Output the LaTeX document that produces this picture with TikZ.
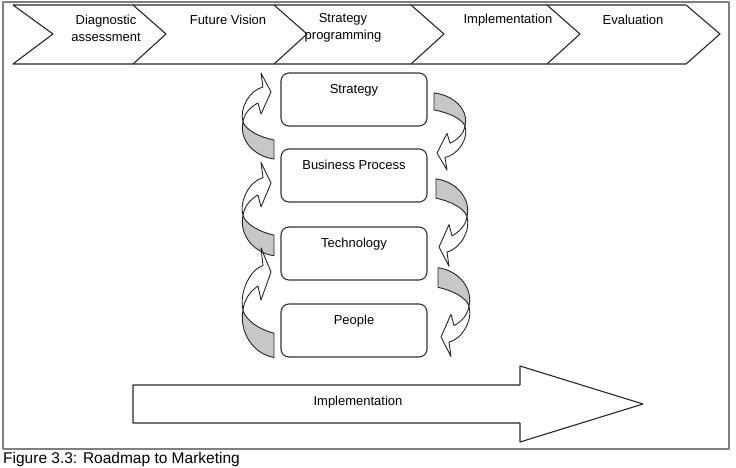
\documentclass[tikz,border=0pt]{standalone}
\usepackage{fontspec}
\setmainfont{Liberation Sans}
\newcommand\uturnL[3]{%
  \begin{scope}[shift={(#1,#2)}, yscale=#3]
    \draw[back] (0,-10) .. controls (-15,-13) and (-28,-20) .. (-31,-28)
      .. controls (-35,-12) and (-22,6) .. (0,9) -- cycle;
    \draw[front] (-31,-28) .. controls (-35,-42) and (-24,-60) .. (-11,-63)
      -- (-13,-77) -- (-3,-58) -- (-13,-36) -- (-16,-47)
      .. controls (-24,-43) and (-30,-36) .. cycle;
  \end{scope}}
\newcommand\uturnR[3]{%
  \begin{scope}[shift={(#1,#2)}, yscale=#3, rotate=180]
    \draw[back] (0,-10) .. controls (-15,-13) and (-28,-20) .. (-31,-28)
      .. controls (-35,-12) and (-22,6) .. (0,9) -- cycle;
    \draw[front] (-31,-28) .. controls (-35,-42) and (-24,-60) .. (-11,-63)
      -- (-13,-77) -- (-3,-58) -- (-13,-36) -- (-16,-47)
      .. controls (-24,-43) and (-30,-36) .. cycle;
  \end{scope}}
\begin{document}
\begin{tikzpicture}[x=1pt,y=-1pt, line join=round,
  band/.style={draw=black!85, line width=1.1pt},
  txt/.style={font=\fontsize{13}{17}\selectfont, align=center, inner sep=0},
  box/.style={draw=black!80, line width=1.1pt, rounded corners=8pt,
    minimum width=146pt, minimum height=53pt, inner sep=0},
  boxlabel/.style={font=\fontsize{13}{15}\selectfont, anchor=north, yshift=-8pt},
  turn/.style={draw=black!85, line width=0.9pt},
  back/.style={turn, fill=black!22},
  front/.style={turn, fill=white}]
\useasboundingbox (0,0) rectangle (736,468);
\draw[black!50, line width=1.4pt] (3,2) rectangle (729,449);
% top band of stages
\draw[band] (13,5) -- (686,5) -- (720,34) -- (686,64) -- (13,64) -- (53,34) -- cycle;
\foreach \x in {133,274,411,547} \draw[band] (\x,5) -- (\x+33,34) -- (\x,64);
\node[txt] (s1) at (106,28) {Diagnostic\\assessment};
\node[txt] (s2) at (228,20) {Future Vision};
\node[txt] (s3) at (343,28) {Strategy\\programming};
\node[txt] (s4) at (508,20) {Implementation};
\node[txt] (s5) at (633,20) {Evaluation};
% boxes
\node[box, label={[boxlabel]north:Strategy}] (strategy) at (354,99.5) {};
\node[box, label={[boxlabel]north:Business Process}] (process) at (354,175.5) {};
\node[box, label={[boxlabel]north:Technology}] (technology) at (354,253.5) {};
\node[box, label={[boxlabel]north:People}] (people) at (354,330.5) {};
% turning arrows
\uturnL{274}{150}{1}
\uturnL{274}{246}{1.086}
\uturnL{274}{346}{1.276}
\uturnR{434}{101}{0.897}
\uturnR{436}{188}{1.017}
\uturnR{438}{277}{1.034}
% bottom arrow
\draw[band] (133,385) -- (520,385) -- (520,366) -- (643,404) -- (520,442)
  -- (520,423) -- (133,423) -- cycle;
\node[txt] (impl) at (358,402) {Implementation};
% caption
\node[anchor=north west, inner sep=0, font=\fontsize{15.5}{18}\selectfont] (caption)
  at (3,452) {Figure 3.3: Roadmap to Marketing};
\end{tikzpicture}
\end{document}
